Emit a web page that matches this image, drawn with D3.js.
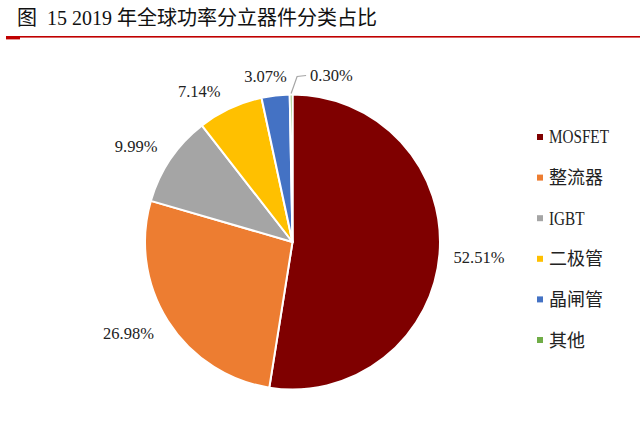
<!DOCTYPE html>
<html><head><meta charset="utf-8">
<script src="https://cdn.jsdelivr.net/npm/d3@7"></script>
<style>html,body{margin:0;padding:0;background:#fff;}</style>
</head><body>
<svg id="c" width="640" height="444"></svg>
<script>
const categories = ["MOSFET", "整流器", "IGBT", "二极管", "晶闸管", "其他"];
const values = [52.51, 26.98, 9.99, 7.14, 3.07, 0.30];
const labels = ["52.51%", "26.98%", "9.99%", "7.14%", "3.07%", "0.30%"];
const colors = ["#7F0000", "#ED7D31", "#A5A5A5", "#FFC000", "#4472C4", "#70AD47"];
const title = "15 2019 年全球功率分立器件分类占比";

// layout-only label nudges (best-fit placement offsets)
const labelNudge = [[0, 2], [-6, 1], [-5, 0], [-16, 3], [-6, 3], [0, 0]];

const svg = d3.select("#c");
const serif = "'Liberation Serif','Times New Roman','Noto Sans CJK SC',serif";

// title
svg.append("text").attr("x", 17).attr("y", 25)
  .attr("font-family", "'Noto Sans CJK SC',sans-serif").attr("font-size", 20).attr("fill", "#111")
  .text("图");
svg.append("text").attr("x", 47).attr("y", 25)
  .attr("font-family", serif).attr("font-size", 20).attr("fill", "#111")
  .text(title);
svg.append("rect").attr("x", 6).attr("y", 36).attr("width", 634).attr("height", 1.6).attr("fill", "#C00000");
svg.append("rect").attr("x", 6).attr("y", 37).attr("width", 14).attr("height", 2.4).attr("fill", "#C00000");

const cx = 292.5, cy = 242, R = 147.5;
const g = svg.append("g").attr("transform", `translate(${cx},${cy})`);
const pie = d3.pie().sort(null).value(d => d)(values);
const arc = d3.arc().innerRadius(0).outerRadius(R);

g.selectAll("path.slice").data(pie).enter().append("path")
  .attr("class", "slice")
  .attr("d", arc)
  .attr("fill", (d, i) => colors[i])
  .attr("stroke", "#fff").attr("stroke-width", 2).attr("stroke-linejoin", "round");

// labels
const fs = 16.5;
const labArc = d3.arc().innerRadius(R + 14).outerRadius(R + 14);
pie.forEach((d, i) => {
  const mid = (d.startAngle + d.endAngle) / 2;
  if (i === pie.length - 1) {
    const p0 = d3.arc().innerRadius(R + 1).outerRadius(R + 1).centroid(d);
    const p1 = [p0[0] + 6, p0[1] - 17];
    const p2 = [p1[0] + 9, p1[1] - 1];
    g.append("path").attr("d", d3.line()([p0, p1, p2]))
      .attr("fill", "none").attr("stroke", "#A6A6A6").attr("stroke-width", 1.2);
    g.append("text").attr("x", p2[0] + 4).attr("y", p2[1] + 5)
      .attr("font-family", serif).attr("font-size", fs).attr("fill", "#222")
      .text(labels[i]);
    return;
  }
  const p = labArc.centroid(d);
  const t = g.append("text").attr("font-family", serif).attr("font-size", fs).attr("fill", "#222")
    .attr("text-anchor", "middle").text(labels[i]);
  const w = t.node().getBBox().width, h = 16;
  const x = p[0] + Math.sin(mid) * w / 2 + labelNudge[i][0];
  const y = p[1] - Math.cos(mid) * h / 2 + labelNudge[i][1];
  t.attr("x", x).attr("y", y + 5.5);
});

// legend
const leg = svg.append("g");
const ly = d3.scalePoint().domain(categories).range([137, 340]);
categories.forEach((c, i) => {
  const y = ly(c);
  leg.append("rect").attr("x", 537).attr("y", y - 3).attr("width", 6).attr("height", 6).attr("fill", colors[i]);
  const latin = /^[A-Za-z]+$/.test(c);
  const t = leg.append("text").attr("x", 549).attr("y", y + 6.5)
    .attr("font-family", latin ? serif : "'Noto Sans CJK SC',sans-serif")
    .attr("font-size", latin ? 19.5 : 18).attr("fill", "#222").text(c);
  if (latin) t.attr("transform", `translate(549,0) scale(0.78,1) translate(-549,0)`);
});
</script>
</body></html>
